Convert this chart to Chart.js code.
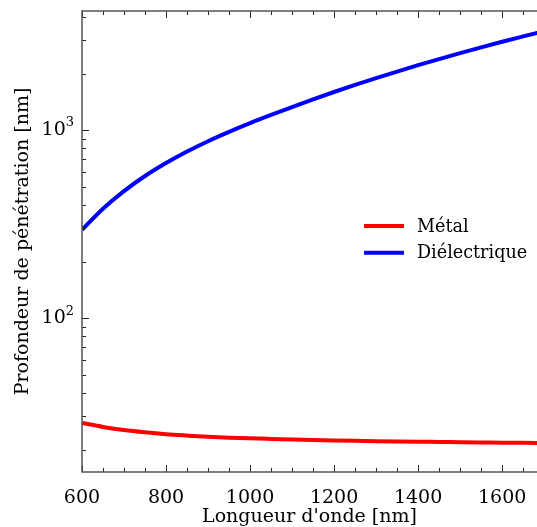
<!DOCTYPE html>
<html>
<head>
<meta charset="utf-8">
<script src="https://cdn.jsdelivr.net/npm/chart.js@4.4.0/dist/chart.umd.min.js"></script>
<style>
html, body { margin: 0; padding: 0; background: #fff; overflow: hidden; }
</style>
</head>
<body>
<canvas id="graphique" width="537" height="527"></canvas>
<script>
// Longueurs d'onde (nm)
const longueurs = [600, 650, 700, 750, 800, 850, 900, 950, 1000, 1050, 1100, 1150,
    1200, 1250, 1300, 1350, 1400, 1450, 1500, 1550, 1600, 1650, 1700];
// Profondeur de pénétration (nm)
const metal = [27.7, 26.4, 25.4, 24.7, 24.15, 23.75, 23.4, 23.15, 22.95, 22.78, 22.62, 22.48,
    22.36, 22.26, 22.17, 22.09, 22.02, 21.96, 21.9, 21.84, 21.78, 21.72, 21.66];
const dielectrique = [295, 382, 474, 570, 668, 769, 873, 979, 1089, 1204, 1327, 1458,
    1595, 1740, 1891, 2048, 2214, 2386, 2567, 2755, 2951, 3151, 3360];

const xTicks = [600, 800, 1000, 1200, 1400, 1600];
const xMinor = [650, 700, 750, 850, 900, 950, 1050, 1100, 1150, 1250, 1300, 1350, 1450, 1500, 1550, 1650];
const yTicks = [100, 1000];
const yMinor = [20, 30, 40, 50, 60, 70, 80, 90, 200, 300, 400, 500, 600, 700, 800, 900, 2000, 3000, 4000];

const police = "'DejaVu Serif'";

// cadre, graduations vers l'intérieur, étiquettes 10^n, légende
const cadre = {
    id: 'cadre',
    afterDraw(chart) {
        const ctx = chart.ctx;
        const a = chart.chartArea;
        const sx = chart.scales.x, sy = chart.scales.y;
        ctx.save();
        ctx.strokeStyle = '#222';
        ctx.lineWidth = 1;
        ctx.beginPath();
        xTicks.forEach(v => {
            const p = Math.round(sx.getPixelForValue(v)) + 0.5;
            ctx.moveTo(p, a.bottom); ctx.lineTo(p, a.bottom - 7);
            ctx.moveTo(p, a.top); ctx.lineTo(p, a.top + 7);
        });
        xMinor.forEach(v => {
            const p = Math.round(sx.getPixelForValue(v)) + 0.5;
            ctx.moveTo(p, a.bottom); ctx.lineTo(p, a.bottom - 4);
            ctx.moveTo(p, a.top); ctx.lineTo(p, a.top + 4);
        });
        yTicks.forEach(v => {
            const p = Math.round(sy.getPixelForValue(v)) + 0.5;
            ctx.moveTo(a.left, p); ctx.lineTo(a.left + 7, p);
        });
        yMinor.forEach(v => {
            const p = Math.round(sy.getPixelForValue(v)) + 0.5;
            ctx.moveTo(a.left, p); ctx.lineTo(a.left + 4, p);
        });
        ctx.stroke();

        ctx.strokeStyle = '#555';
        ctx.lineWidth = 1.5;
        ctx.beginPath();
        ctx.moveTo(a.right + 5, a.top);
        ctx.lineTo(a.left, a.top);
        ctx.lineTo(a.left, a.bottom);
        ctx.lineTo(a.right + 5, a.bottom);
        ctx.stroke();

        // étiquettes de l'axe y
        ctx.fillStyle = '#000';
        ctx.textBaseline = 'middle';
        yTicks.forEach(v => {
            const p = sy.getPixelForValue(v);
            const exp = String(Math.round(Math.log10(v)));
            ctx.font = '13px ' + police;
            const we = ctx.measureText(exp).width;
            ctx.textAlign = 'right';
            ctx.fillText(exp, a.left - 8, p - 7);
            ctx.font = '19px ' + police;
            ctx.fillText('10', a.left - 8 - we, p);
        });

        // légende
        const lx = 364, ly = 226, pas = 26.7;
        chart.data.datasets.forEach((ds, i) => {
            const y = ly + i * pas;
            ctx.strokeStyle = ds.borderColor;
            ctx.lineWidth = 4;
            ctx.beginPath();
            ctx.moveTo(lx, y); ctx.lineTo(lx + 40, y);
            ctx.stroke();
            ctx.font = '17.6px ' + police;
            ctx.textAlign = 'left';
            ctx.fillStyle = '#000';
            ctx.fillText(ds.label, lx + 53, y + 1);
        });
        ctx.restore();
    }
};

const graphique = new Chart(document.getElementById('graphique'), {
    type: 'line',
    data: {
        labels: longueurs,
        datasets: [{
            label: 'Métal',
            data: metal.map((v, i) => ({ x: longueurs[i], y: v })),
            borderColor: '#ff0000',
            borderWidth: 4,
            pointRadius: 0,
            cubicInterpolationMode: 'monotone'
        }, {
            label: 'Diélectrique',
            data: dielectrique.map((v, i) => ({ x: longueurs[i], y: v })),
            borderColor: '#0000ff',
            borderWidth: 4,
            pointRadius: 0,
            cubicInterpolationMode: 'monotone'
        }]
    },
    options: {
        responsive: false,
        animation: false,
        devicePixelRatio: 1,
        layout: { padding: { top: 11, right: 0, left: 0, bottom: 0 } },
        plugins: { legend: { display: false }, tooltip: { enabled: false } },
        scales: {
            x: {
                type: 'linear',
                min: 600,
                max: 1683,
                grid: { display: false },
                border: { display: false },
                afterBuildTicks: s => { s.ticks = xTicks.map(v => ({ value: v })); },
                afterFit: s => { s.height = 55; },
                ticks: {
                    autoSkip: false,
                    maxRotation: 0,
                    padding: 7,
                    color: '#000',
                    font: { family: police, size: 19 },
                    callback: v => String(v)
                },
                title: {
                    display: true,
                    text: "Longueur d'onde [nm]",
                    color: '#000',
                    font: { family: police, size: 19, lineHeight: 1 },
                    padding: 0
                }
            },
            y: {
                type: 'logarithmic',
                min: 15.2,
                max: 4300,
                grid: { display: false },
                border: { display: false },
                afterBuildTicks: s => { s.ticks = yTicks.map(v => ({ value: v })); },
                afterFit: s => { s.width = 82; },
                ticks: { display: false },
                title: {
                    display: true,
                    text: 'Profondeur de pénétration [nm]',
                    color: '#000',
                    font: { family: police, size: 19, lineHeight: 1 },
                    padding: { top: 14, bottom: 0 }
                }
            }
        }
    },
    plugins: [cadre]
});
</script>
</body>
</html>
